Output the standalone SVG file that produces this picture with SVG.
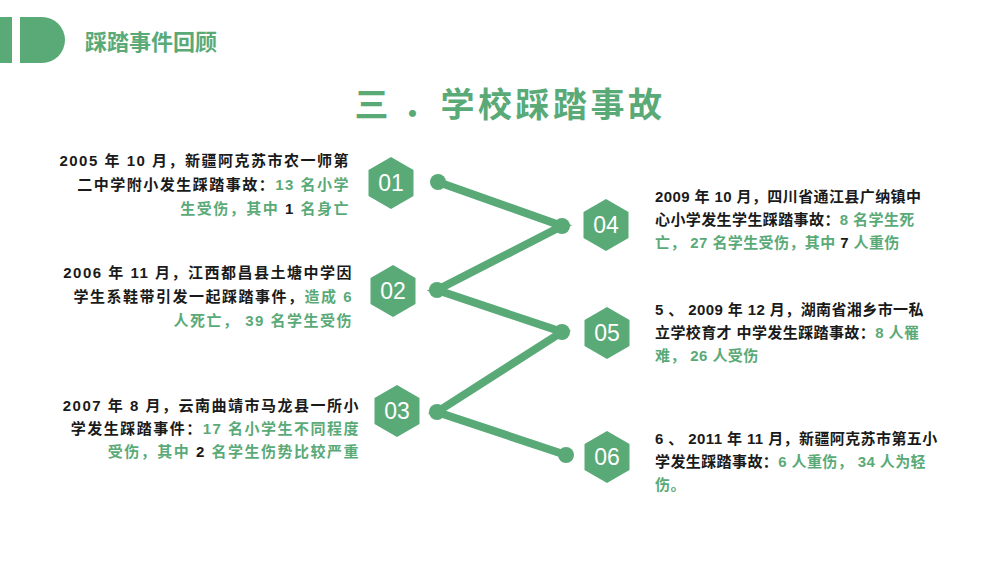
<svg xmlns="http://www.w3.org/2000/svg" width="1000" height="563" viewBox="0 0 1000 563">
<style>
.t{font-family:"Liberation Sans","Noto Sans CJK SC",sans-serif;font-weight:bold;font-size:15px;fill:#1a1a1a}
.L{letter-spacing:1.5px}
.R{letter-spacing:0.4px}
.g{fill:#5aaa78}
.hex{fill:#5aaa78}
.n{font-family:"Liberation Sans",sans-serif;font-size:23px;fill:#fff;text-anchor:middle}
.r{text-anchor:end}
</style>
<rect width="1000" height="563" fill="#fff"/>
<g id="header">
<rect x="0" y="17" width="12" height="46" fill="#5aaa78"/>
<path d="M20 17 H42 A23 23 0 0 1 42 63 H20 Z" fill="#5aaa78"/>
<text x="85" y="50" font-family="Noto Sans CJK SC,sans-serif" font-size="22" font-weight="bold" fill="#5aaa78">踩踏事件回顾</text>
</g>
<text x="510" y="117" text-anchor="middle" font-family="Noto Sans CJK SC,sans-serif" font-size="34" font-weight="bold" fill="#5aaa78" letter-spacing="3.5">三 ．学校踩踏事故</text>
<g id="connectors" stroke="#5aaa78" stroke-width="8" fill="none" stroke-linecap="round">
<polyline points="438,182 562,226 437,290 562,332 437,412 566,455"/>
<g fill="#5aaa78" stroke="none">
<circle cx="438" cy="182" r="8"/><circle cx="562" cy="226" r="8"/><circle cx="437" cy="290" r="8"/>
<circle cx="562" cy="332" r="8"/><circle cx="437" cy="412" r="8"/><circle cx="566" cy="455" r="8"/>
</g>
</g>
<defs><polygon id="h" points="0,-26 22.5,-13 22.5,13 0,26 -22.5,13 -22.5,-13"/></defs>
<g id="n01"><use href="#h" x="391" y="183" class="hex"/><text class="n" x="391" y="191">01</text></g>
<g id="n02"><use href="#h" x="393" y="291" class="hex"/><text class="n" x="393" y="299">02</text></g>
<g id="n03"><use href="#h" x="397" y="411" class="hex"/><text class="n" x="397" y="419">03</text></g>
<g id="n04"><use href="#h" x="606" y="225" class="hex"/><text class="n" x="606" y="233">04</text></g>
<g id="n05"><use href="#h" x="607" y="333" class="hex"/><text class="n" x="607" y="341">05</text></g>
<g id="n06"><use href="#h" x="607" y="457" class="hex"/><text class="n" x="607" y="465">06</text></g>
<g id="txt1" class="t L">
<text x="350" y="166" class="r">2005 年 10 月，新疆阿克苏市农一师第</text>
<text x="350" y="190" class="r">二中学附小发生踩踏事故：<tspan class="g">13 名小学</tspan></text>
<text x="350" y="214" class="r g">生受伤，其中 <tspan fill="#1a1a1a">1</tspan> 名身亡</text>
</g>
<g id="txt2" class="t L">
<text x="353" y="278" class="r">2006 年 11 月，江西都昌县土塘中学因</text>
<text x="353" y="302" class="r">学生系鞋带引发一起踩踏事件，<tspan class="g">造成 6</tspan></text>
<text x="353" y="326" class="r g">人死亡， 39 名学生受伤</text>
</g>
<g id="txt3" class="t L">
<text x="360" y="411" class="r">2007 年 8 月，云南曲靖市马龙县一所小</text>
<text x="360" y="434" class="r">学发生踩踏事件：<tspan class="g">17 名小学生不同程度</tspan></text>
<text x="360" y="457" class="r g">受伤，其中 <tspan fill="#1a1a1a">2</tspan> 名学生伤势比较严重</text>
</g>
<g id="txt4" class="t R">
<text x="655" y="202">2009 年 10 月，四川省通江县广纳镇中</text>
<text x="655" y="225">心小学发生学生踩踏事故：<tspan class="g">8 名学生死</tspan></text>
<text x="655" y="248" class="g">亡， 27 名学生受伤，其中 <tspan fill="#1a1a1a">7</tspan> 人重伤</text>
</g>
<g id="txt5" class="t R">
<text x="655" y="315">5 、 2009 年 12 月，湖南省湘乡市一私</text>
<text x="655" y="338">立学校育才 中学发生踩踏事故：<tspan class="g">8 人罹</tspan></text>
<text x="655" y="361" class="g">难， 26 人受伤</text>
</g>
<g id="txt6" class="t R">
<text x="655" y="444">6 、 2011 年 11 月，新疆阿克苏市第五小</text>
<text x="655" y="467">学发生踩踏事故：<tspan class="g">6 人重伤， 34 人为轻</tspan></text>
<text x="655" y="490" class="g">伤。</text>
</g>
</svg>
